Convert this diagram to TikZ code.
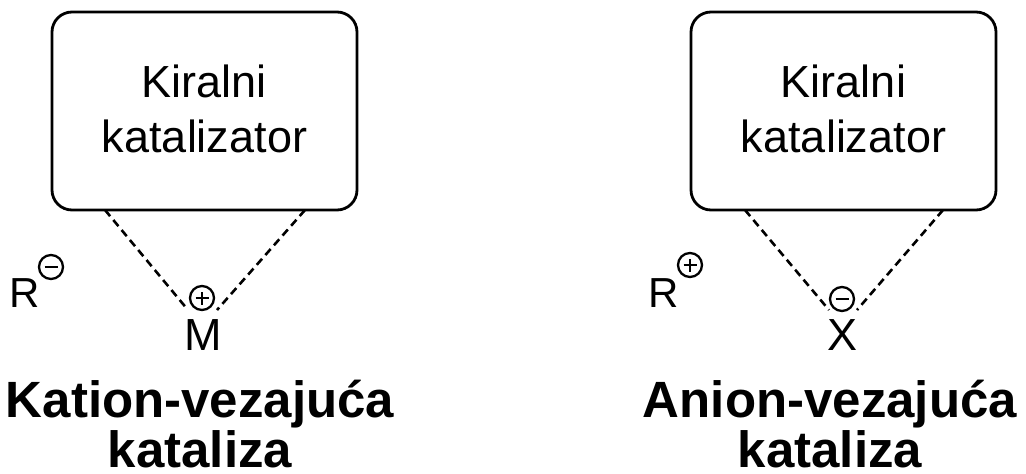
\documentclass[tikz,border=0pt]{standalone}
\usepackage{fontspec}
\setmainfont{Liberation Sans}
\begin{document}
\begin{tikzpicture}[x=1pt,y=-1pt,
  catbox/.style={draw,line width=2.8pt,rounded corners=20pt,minimum width=305pt,minimum height=198pt,inner sep=0pt},
  boxtxt/.style={font=\fontsize{45}{55}\selectfont,align=center,anchor=base,inner sep=0pt},
  atom/.style={font=\fontsize{45}{55}\selectfont,anchor=base,inner sep=0pt},
  ratom/.style={font=\fontsize{42}{50}\selectfont,anchor=base,inner sep=0pt},
  ttl/.style={font=\fontsize{51}{50}\selectfont\bfseries,align=center,anchor=base,inner sep=0pt},
  bond/.style={dashed,dash pattern=on 8pt off 5pt,line width=2.6pt},
  chg/.style={draw,circle,line width=2.3pt,minimum size=24pt,inner sep=0pt},
  chgminus/.style={chg,path picture={\draw[line width=2.3pt]
      ([xshift=-6.5pt]path picture bounding box.center) -- ([xshift=6.5pt]path picture bounding box.center);}},
  chgplus/.style={chg,path picture={\draw[line width=2.3pt]
      ([xshift=-6.5pt]path picture bounding box.center) -- ([xshift=6.5pt]path picture bounding box.center)
      ([yshift=-6.5pt]path picture bounding box.center) -- ([yshift=6.5pt]path picture bounding box.center);}}
]
\useasboundingbox (0,0) rectangle (1026,474);
% left panel
\node[catbox] (lbox) at (204.5,111) {};
\node[boxtxt] (ltxt) at (204.5,152) {Kiralni\\katalizator};
\node[ratom] (lR) at (25,307) {R};
\node[chgminus] (lRc) at (51,267) {};
\node[atom] (lM) at (203.5,350) {M};
\node[chgplus] (lMc) at (202,298) {};
\coordinate (lb1) at (105,210);
\coordinate (lb2) at (305,210);
\coordinate (le1) at (188,310);
\coordinate (le2) at (217,310);
\draw[bond] (lb1) -- (le1);
\draw[bond] (lb2) -- (le2);
\node[ttl] (lttl) at (200,467) {Kation-vezajuća\\kataliza};
% right panel
\node[catbox] (rbox) at (843.5,111) {};
\node[boxtxt] (rtxt) at (843.5,152) {Kiralni\\katalizator};
\node[ratom] (rR) at (664,307) {R};
\node[chgplus] (rRc) at (690,265) {};
\node[atom] (rX) at (842,350) {X};
\node[chgminus] (rXc) at (842,299) {};
\coordinate (rb1) at (745,210);
\coordinate (rb2) at (943,210);
\coordinate (re1) at (829,310);
\coordinate (re2) at (857,310);
\draw[bond] (rb1) -- (re1);
\draw[bond] (rb2) -- (re2);
\node[ttl] (rttl) at (830,467) {Anion-vezajuća\\kataliza};
\end{tikzpicture}
\end{document}
